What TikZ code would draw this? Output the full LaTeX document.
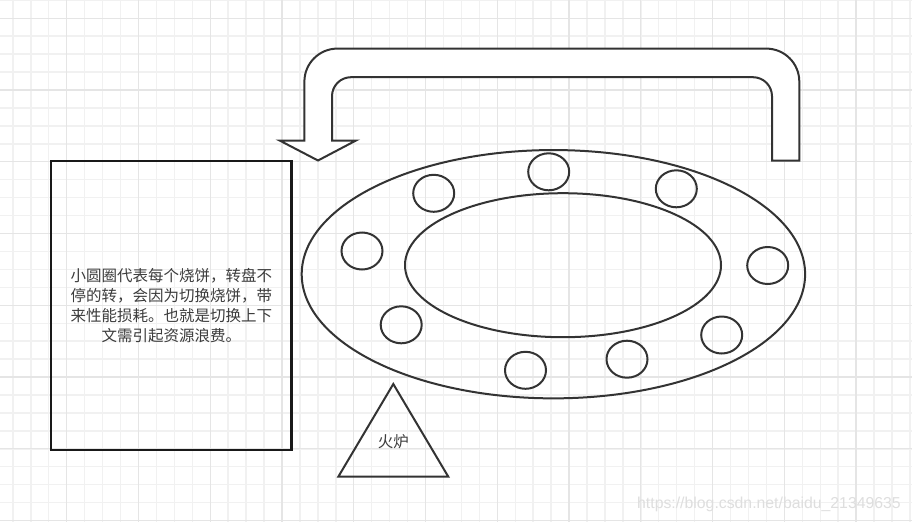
\documentclass[tikz,border=0pt]{standalone}
\usepackage{fontspec}
\newfontfamily\cjk{Noto Sans CJK SC}
\newfontfamily\markfont{Liberation Sans}
\usetikzlibrary{shapes.geometric}
\definecolor{gridminor}{HTML}{F1F1F1}
\definecolor{gridmajor}{HTML}{E5E5E5}
\definecolor{ink}{HTML}{333333}
\definecolor{label}{HTML}{3C3C3C}

\begin{document}
\begin{tikzpicture}[x=1pt,y=-1pt,
   every node/.style={font=\cjk\fontsize{15.5}{20}\selectfont,text=label},
   outline/.style={draw=ink,line width=2pt},
   cake/.style={outline,ellipse,minimum width=41pt,minimum height=37pt,inner sep=0pt},
   tray/.style={outline,ellipse,inner sep=0pt},
   notebox/.style={draw=black!90,line width=2.5pt,minimum width=240.5pt,
     minimum height=289pt,align=center},
   turnarrow/.style={outline,fill=white,line join=miter}]
  \useasboundingbox (0,0) rectangle (912,522);
  \fill[white] (0,0) rectangle (912,522);
  % background grid
  \foreach \i in {0,...,50}
    \draw[gridminor,line width=1.4pt] ({12.9+\i*17.94},0) -- ++(0,522);
  \foreach \j in {0,...,29}
    \draw[gridminor,line width=1.4pt] (0,{0.3+\j*17.94}) -- ++(912,0);
  \foreach \i in {0,...,11}
    \draw[gridmajor,line width=1.4pt] ({66.7+\i*71.75},0) -- ++(0,522);
  \foreach \j in {0,...,7}
    \draw[gridmajor,line width=1.4pt] (0,{18.25+\j*71.75}) -- ++(912,0);

  % text box
  \node[notebox] (note) at (171.25,305.5)
    {小圆圈代表每个烧饼，转盘不\\停的转，会因为切换烧饼，带\\来性能损耗。也就是切换上下\\文需引起资源浪费。};

  % turntable
  \node[tray,minimum width=503.4pt,minimum height=248.3pt] (tray) at (553.4,274.2) {};
  \node[tray,minimum width=316pt,minimum height=144pt] (hole) at (563,265.2) {};
  \foreach \n/\x/\y in {1/548.7/171.8, 2/676.3/188.8, 3/767.7/265.5,
      4/721.7/335, 5/627/359.2, 6/525.5/370.3, 7/401.2/324.8,
      8/362/251, 9/433.7/193.3}
    \node[cake] (cake\n) at (\x,\y) {};

  % rotation arrow
  \draw[turnarrow] (279.6,140.5) -- (318,160.5) -- (356,140.5) -- (332,140.5)
    -- (332,96.2) arc[start angle=180,end angle=270,radius=19]
    -- (753,77.2) arc[start angle=270,end angle=360,radius=19]
    -- (772,160.7) -- (799.3,160.7)
    -- (799.3,81.6) arc[start angle=0,end angle=-90,radius=33]
    -- (337.4,48.6) arc[start angle=270,end angle=180,radius=33]
    -- (304.4,140.5) -- cycle;

  % stove
  \draw[outline] (393.3,384) -- (448.3,476.7) -- (338.3,476.7) -- cycle;
  \node (stove) at (393.3,442) {火炉};

  \node[font=\markfont\fontsize{15.8}{18}\selectfont,text=black!13,
    anchor=base west,inner sep=0pt] (mark) at (637,508.5)
    {https://blog.csdn.net/baidu\_21349635};
\end{tikzpicture}
\end{document}
